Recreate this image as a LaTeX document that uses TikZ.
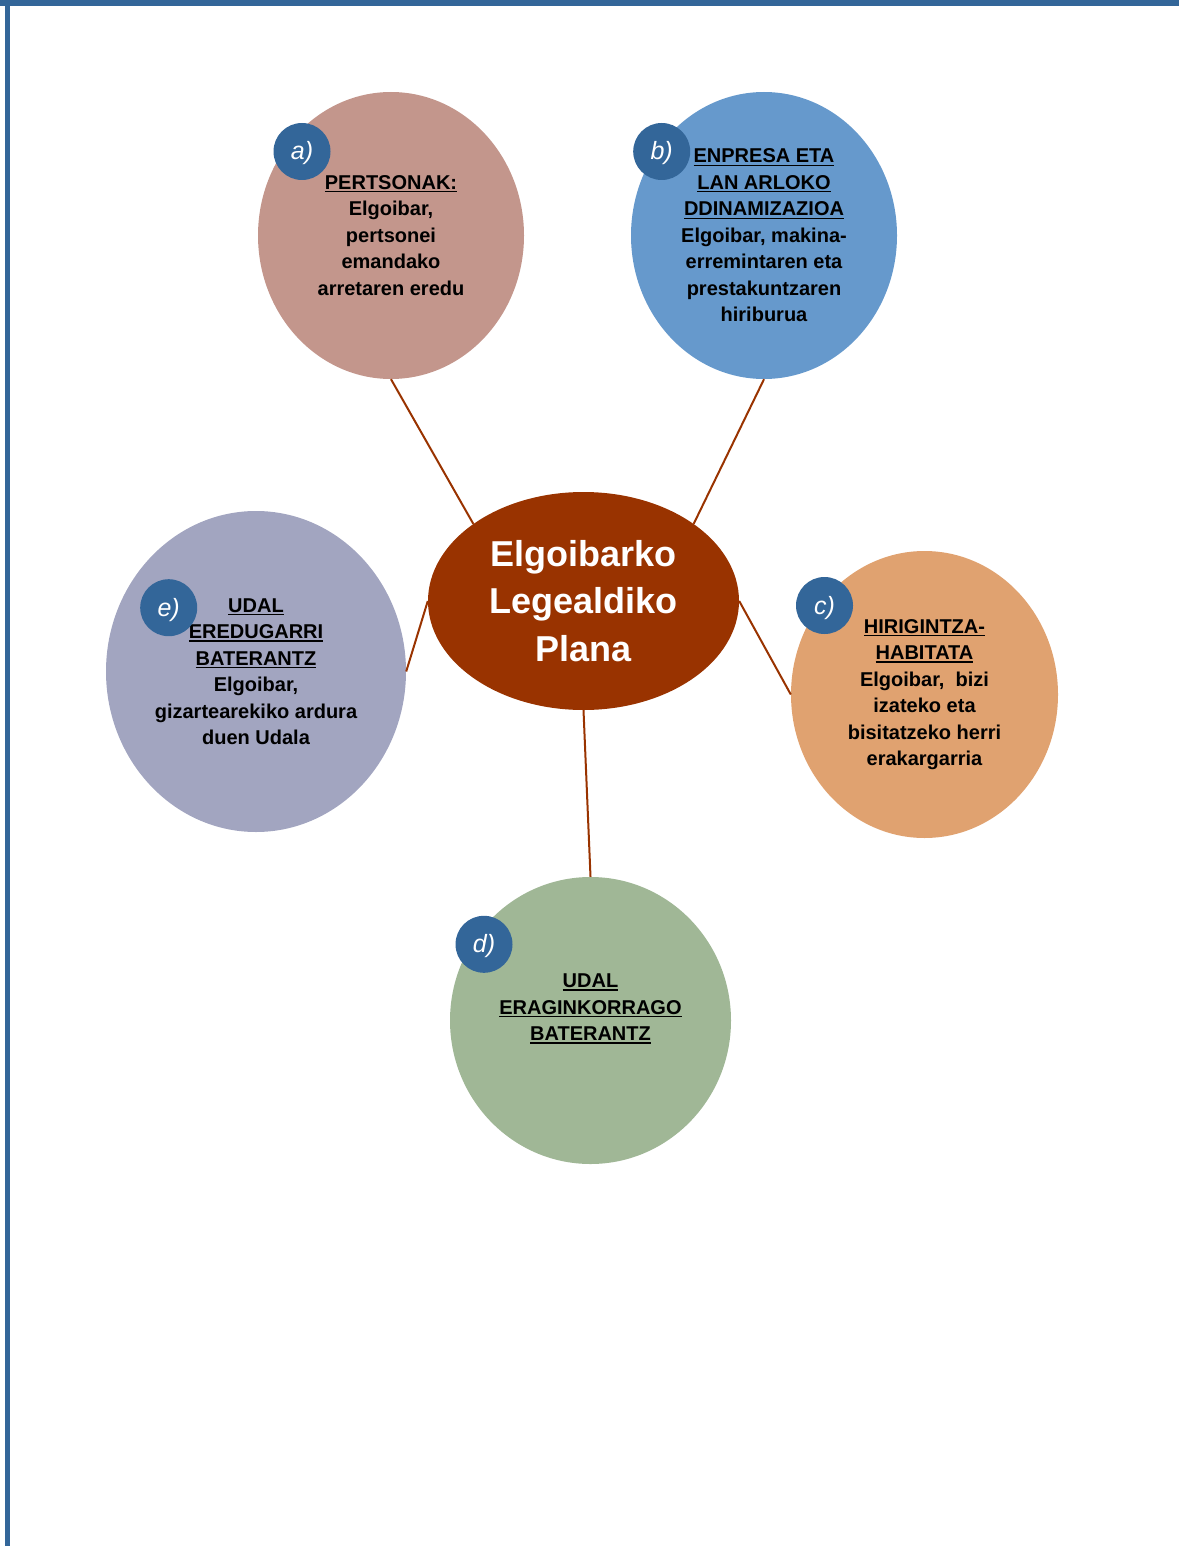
\documentclass[tikz,border=0pt]{standalone}
\usepackage{fontspec}
\setmainfont{Liberation Sans}
\usepackage{tikz}
\usetikzlibrary{shapes.geometric}

\definecolor{framecol}{HTML}{336699}
\definecolor{plancol}{HTML}{993300}
\definecolor{acol}{HTML}{C3968C}
\definecolor{bcol}{HTML}{6699CC}
\definecolor{ccol}{HTML}{E0A270}
\definecolor{dcol}{HTML}{A0B796}
\definecolor{ecol}{HTML}{A2A5C0}

\newcommand\hd[1]{\leavevmode\vtop{\hbox{#1}\kern1.6pt\hrule height 1.3pt}}

\tikzset{
    bubble/.style={ellipse, inner sep=0pt, align=center,
        font=\fontsize{20}{26.5}\selectfont\bfseries},
    badge/.style={circle, fill=framecol, minimum size=57pt, inner sep=0pt,
        text height=17pt, text depth=0pt,
        text=white, font=\fontsize{25}{25}\selectfont\itshape},
    conn/.style={draw=plancol, line width=2pt}
}

\begin{document}
\begin{tikzpicture}[x=1pt, y=-1pt]
    \useasboundingbox (0,0) rectangle (1179,1546);

    % page frame
    \fill[framecol] (0,0) rectangle (1179,6);
    \fill[framecol] (5,0) rectangle (10,1546);

    \node[ellipse, fill=plancol, minimum width=311pt, minimum height=218pt,
        inner sep=0pt, text=white, align=center,
        font=\fontsize{36}{47.5}\selectfont\bfseries] (plan) at (583.5,601)
        {Elgoibarko\\Legealdiko\\Plana};

    \node[bubble, fill=acol, minimum width=266pt, minimum height=287pt] (a) at (391,235.5)
        {\hd{PERTSONAK:}\\Elgoibar,\\pertsonei\\emandako\\arretaren eredu};
    \node[bubble, fill=bcol, minimum width=266pt, minimum height=287pt] (b) at (764,235.5)
        {\hd{ENPRESA ETA}\\\hd{LAN ARLOKO}\\\hd{DDINAMIZAZIOA}\\Elgoibar, makina-\\erremintaren eta\\prestakuntzaren\\hiriburua};
    \node[bubble, fill=ccol, minimum width=267pt, minimum height=287pt] (c) at (924.5,694.5)
        {\hd{HIRIGINTZA-}\\\hd{HABITATA}\\Elgoibar,~ bizi\\izateko eta\\bisitatzeko herri\\erakargarria};
    \node[bubble, fill=dcol, minimum width=281pt, minimum height=287pt] (d) at (590.5,1020.5)
        {\hd{UDAL}\\\hd{ERAGINKORRAGO}\\\hd{BATERANTZ}\\\mbox{}};
    \node[bubble, fill=ecol, minimum width=300pt, minimum height=321pt] (e) at (256,671.5)
        {\hd{UDAL}\\\hd{EREDUGARRI}\\\hd{BATERANTZ}\\Elgoibar,\\gizartearekiko ardura\\duen Udala};

    \node[badge] (la) at (302,151.5) {a)};
    \node[badge] (lb) at (661.7,151.5) {b)};
    \node[badge] (lc) at (824.5,605.5) {c)};
    \node[badge] (ld) at (484,944.3) {d)};
    \node[badge] (le) at (168.7,607.7) {e)};

    \path[conn] (a.south) -- (plan.145);
    \path[conn] (b.south) -- (plan.35);
    \path[conn] (e.east) -- (plan.west);
    \path[conn] (plan.east) -- (c.west);
    \path[conn] (plan.south) -- (d.north);

\end{tikzpicture}
\end{document}
